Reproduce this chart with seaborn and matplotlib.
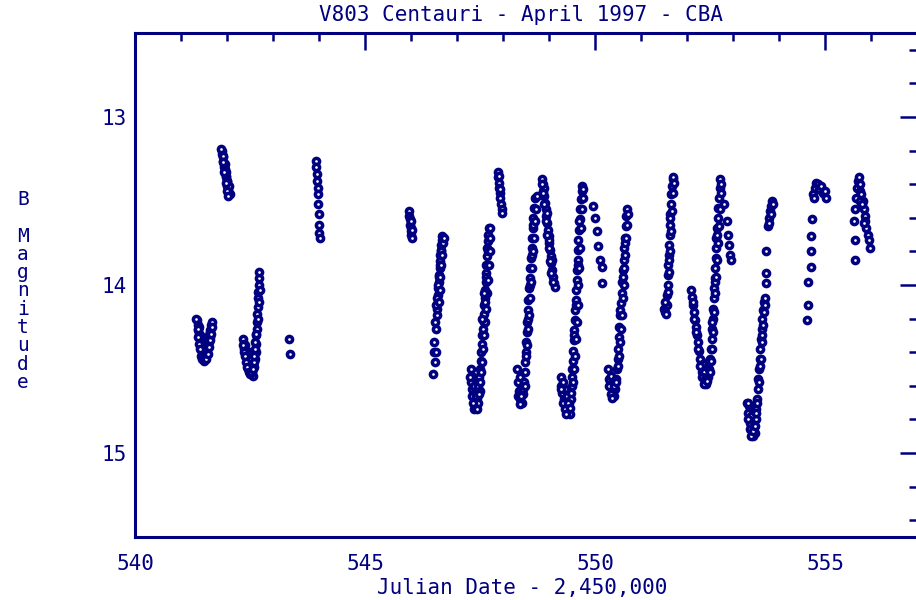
import numpy as np
import pandas as pd
import seaborn as sns
from matplotlib import pyplot as plt
from matplotlib.ticker import MultipleLocator

# photometry runs, (JD - 2,450,000, B magnitude)
run_541a = [(541.35, 14.21), (541.37, 14.24), (541.38, 14.27), (541.40, 14.29), (541.41, 14.32),
            (541.43, 14.34), (541.44, 14.36), (541.46, 14.38), (541.48, 14.40), (541.50, 14.43),
            (541.52, 14.44), (541.54, 14.42), (541.56, 14.40), (541.58, 14.37), (541.59, 14.33),
            (541.61, 14.30), (541.63, 14.27), (541.65, 14.24), (541.67, 14.22), (541.39, 14.25),
            (541.42, 14.30), (541.45, 14.35), (541.47, 14.41), (541.50, 14.39), (541.53, 14.41),
            (541.57, 14.35), (541.60, 14.34), (541.62, 14.31), (541.64, 14.28), (541.32, 14.20),
            (541.36, 14.26), (541.38, 14.31), (541.40, 14.35), (541.42, 14.38), (541.44, 14.42),
            (541.46, 14.44), (541.49, 14.45), (541.55, 14.44), (541.58, 14.41), (541.61, 14.37),
            (541.63, 14.33), (541.66, 14.29), (541.68, 14.25)]
run_541b = [(541.89, 13.20), (541.90, 13.22), (541.91, 13.24), (541.92, 13.26), (541.93, 13.28),
            (541.94, 13.30), (541.95, 13.31), (541.96, 13.33), (541.97, 13.35), (541.98, 13.36),
            (541.99, 13.38), (542.00, 13.40), (542.01, 13.41), (542.02, 13.42), (542.03, 13.44),
            (542.05, 13.45), (542.06, 13.46), (541.92, 13.23), (541.95, 13.28), (541.98, 13.33),
            (542.01, 13.38), (542.04, 13.41), (541.91, 13.27), (541.94, 13.33), (541.97, 13.39),
            (542.00, 13.44), (542.03, 13.47), (541.88, 13.19)]
run_542 = [(542.35, 14.32), (542.37, 14.35), (542.38, 14.38), (542.40, 14.36), (542.41, 14.40),
           (542.43, 14.42), (542.44, 14.39), (542.46, 14.45), (542.48, 14.47), (542.49, 14.43),
           (542.51, 14.50), (542.53, 14.48), (542.55, 14.52), (542.57, 14.54), (542.58, 14.49),
           (542.60, 14.44), (542.62, 14.40), (542.63, 14.35), (542.64, 14.30), (542.65, 14.26),
           (542.66, 14.22), (542.66, 14.17), (542.67, 14.13), (542.67, 14.08), (542.68, 14.04),
           (542.69, 14.00), (542.69, 13.96), (542.70, 13.92), (542.36, 14.40), (542.45, 14.50),
           (542.52, 14.44), (542.60, 14.38), (542.34, 14.36), (542.39, 14.42), (542.42, 14.46),
           (542.44, 14.49), (542.47, 14.52), (542.50, 14.53), (542.53, 14.52), (542.56, 14.50),
           (542.58, 14.46), (542.59, 14.42), (542.61, 14.34), (542.62, 14.29), (542.68, 14.20),
           (542.70, 14.10), (542.71, 14.03)]
run_543a = [(543.35, 14.32), (543.37, 14.41)]
run_543b = [(543.94, 13.26), (543.94, 13.30), (543.95, 13.34), (543.96, 13.38), (543.97, 13.42),
            (543.97, 13.46), (543.98, 13.52), (543.99, 13.58), (544.00, 13.64), (544.01, 13.69),
            (544.02, 13.72)]
run_545 = [(545.95, 13.56), (545.96, 13.59), (545.97, 13.61), (545.98, 13.64), (545.99, 13.66),
           (546.00, 13.68), (546.01, 13.70), (546.02, 13.72), (546.00, 13.62), (546.03, 13.67)]
run_546 = [(546.56, 14.18), (546.57, 14.14), (546.58, 14.10), (546.58, 14.06), (546.59, 14.02),
           (546.60, 13.98), (546.61, 13.94), (546.62, 13.90), (546.63, 13.86), (546.64, 13.82),
           (546.65, 13.79), (546.66, 13.76), (546.67, 13.73), (546.68, 13.71), (546.57, 14.08),
           (546.60, 13.95), (546.63, 13.88), (546.66, 13.80), (546.58, 14.00), (546.55, 14.12),
           (546.53, 14.22), (546.55, 14.26), (546.51, 14.34), (546.49, 14.40), (546.54, 14.40),
           (546.52, 14.46), (546.48, 14.53), (546.60, 14.10), (546.62, 14.03), (546.64, 13.95),
           (546.66, 13.88), (546.68, 13.82), (546.70, 13.75), (546.71, 13.72)]
run_547a = [(547.30, 14.50), (547.31, 14.58), (547.33, 14.62), (547.34, 14.55), (547.36, 14.66),
            (547.37, 14.60), (547.39, 14.70), (547.40, 14.64), (547.42, 14.72), (547.43, 14.67),
            (547.45, 14.60), (547.46, 14.70), (547.48, 14.55), (547.49, 14.63), (547.50, 14.50),
            (547.52, 14.45), (547.53, 14.40), (547.54, 14.35), (547.55, 14.30), (547.56, 14.26),
            (547.57, 14.21), (547.58, 14.17), (547.59, 14.12), (547.60, 14.08), (547.61, 14.03),
            (547.62, 13.98), (547.63, 13.93), (547.64, 13.88), (547.65, 13.83), (547.66, 13.78),
            (547.67, 13.74), (547.68, 13.70), (547.69, 13.66), (547.58, 14.22), (547.61, 14.10),
            (547.64, 13.95), (547.67, 13.80), (547.29, 14.55), (547.32, 14.66), (547.35, 14.70),
            (547.38, 14.74), (547.41, 14.66), (547.44, 14.74), (547.47, 14.65), (547.51, 14.58),
            (547.53, 14.52), (547.55, 14.46), (547.57, 14.38), (547.59, 14.30), (547.61, 14.22),
            (547.63, 14.14), (547.65, 14.05), (547.67, 13.97), (547.69, 13.88), (547.71, 13.80),
            (547.72, 13.72), (547.72, 13.66), (547.55, 14.20), (547.58, 14.05)]
run_547b = [(547.89, 13.33), (547.90, 13.36), (547.91, 13.39), (547.92, 13.42), (547.93, 13.45),
            (547.94, 13.48), (547.96, 13.52), (547.97, 13.55), (547.98, 13.57), (547.91, 13.35),
            (547.94, 13.43)]
run_548 = [(548.30, 14.50), (548.32, 14.58), (548.34, 14.63), (548.36, 14.55), (548.37, 14.68),
           (548.39, 14.62), (548.41, 14.70), (548.43, 14.65), (548.45, 14.58), (548.47, 14.52),
           (548.48, 14.46), (548.49, 14.40), (548.50, 14.34), (548.52, 14.28), (548.53, 14.22),
           (548.54, 14.15), (548.55, 14.09), (548.57, 14.02), (548.58, 13.96), (548.59, 13.90),
           (548.61, 13.84), (548.62, 13.78), (548.63, 13.72), (548.65, 13.66), (548.66, 13.60),
           (548.68, 13.54), (548.70, 13.48), (548.54, 14.20), (548.58, 14.00), (548.62, 13.82),
           (548.66, 13.64), (548.85, 13.37), (548.87, 13.40), (548.88, 13.44), (548.90, 13.47),
           (548.91, 13.51), (548.93, 13.55), (548.94, 13.59), (548.96, 13.63), (548.97, 13.67),
           (548.99, 13.71), (549.00, 13.75), (549.02, 13.79), (549.04, 13.83), (549.05, 13.87),
           (549.07, 13.91), (549.09, 13.95), (549.11, 13.99), (549.12, 14.01), (548.89, 13.42),
           (548.95, 13.57), (549.01, 13.73), (549.06, 13.85), (548.33, 14.66), (548.36, 14.71),
           (548.40, 14.66), (548.44, 14.62), (548.47, 14.60), (548.51, 14.42), (548.53, 14.36),
           (548.55, 14.26), (548.57, 14.18), (548.59, 14.08), (548.61, 13.98), (548.63, 13.90),
           (548.65, 13.80), (548.67, 13.72), (548.69, 13.62), (548.71, 13.55), (548.73, 13.47),
           (548.90, 13.52), (548.93, 13.62), (548.96, 13.70), (548.99, 13.78), (549.02, 13.86),
           (549.05, 13.93), (549.08, 13.98), (548.84, 13.40), (548.86, 13.45)]
run_549 = [(549.25, 14.55), (549.27, 14.60), (549.29, 14.64), (549.31, 14.58), (549.33, 14.68),
           (549.35, 14.62), (549.37, 14.72), (549.39, 14.66), (549.41, 14.75), (549.43, 14.70),
           (549.45, 14.77), (549.47, 14.68), (549.49, 14.60), (549.51, 14.55), (549.50, 14.50),
           (549.52, 14.45), (549.53, 14.39), (549.54, 14.33), (549.55, 14.27), (549.56, 14.21),
           (549.57, 14.15), (549.58, 14.09), (549.59, 14.03), (549.60, 13.97), (549.61, 13.91),
           (549.62, 13.85), (549.63, 13.79), (549.64, 13.73), (549.66, 13.67), (549.67, 13.61),
           (549.68, 13.55), (549.69, 13.49), (549.71, 13.44), (549.72, 13.41), (549.58, 14.12),
           (549.62, 13.88), (549.66, 13.62), (549.55, 14.30), (549.26, 14.62), (549.30, 14.70),
           (549.34, 14.74), (549.38, 14.77), (549.42, 14.70), (549.46, 14.73), (549.48, 14.64),
           (549.52, 14.58), (549.54, 14.50), (549.56, 14.42), (549.58, 14.32), (549.60, 14.22),
           (549.62, 14.12), (549.64, 14.00), (549.66, 13.90), (549.68, 13.78), (549.70, 13.66),
           (549.72, 13.55), (549.74, 13.48), (549.73, 13.43),
           (549.96, 13.53), (550.00, 13.60), (550.04, 13.68), (550.07, 13.77), (550.11, 13.85),
           (550.15, 13.89), (550.15, 13.99)]
run_550 = [(550.29, 14.50), (550.31, 14.56), (550.33, 14.60), (550.35, 14.54), (550.37, 14.64),
           (550.39, 14.58), (550.41, 14.66), (550.43, 14.62), (550.45, 14.56), (550.47, 14.50),
           (550.49, 14.44), (550.50, 14.38), (550.52, 14.31), (550.53, 14.25), (550.55, 14.18),
           (550.56, 14.11), (550.58, 14.05), (550.59, 13.98), (550.61, 13.91), (550.62, 13.85),
           (550.64, 13.78), (550.65, 13.72), (550.67, 13.65), (550.68, 13.59), (550.70, 13.55),
           (550.55, 14.15), (550.60, 13.95), (550.65, 13.75), (550.30, 14.60), (550.34, 14.65),
           (550.38, 14.67), (550.42, 14.60), (550.46, 14.58), (550.50, 14.48), (550.52, 14.42),
           (550.54, 14.34), (550.56, 14.26), (550.58, 14.18), (550.60, 14.08), (550.62, 14.00),
           (550.64, 13.90), (550.66, 13.82), (550.68, 13.72), (550.70, 13.64), (550.72, 13.58)]
run_551 = [(551.50, 14.14), (551.53, 14.16), (551.56, 14.12), (551.57, 14.06), (551.58, 14.00),
           (551.58, 13.94), (551.59, 13.88), (551.60, 13.82), (551.61, 13.76), (551.62, 13.70),
           (551.63, 13.64), (551.64, 13.58), (551.65, 13.52), (551.66, 13.46), (551.67, 13.41),
           (551.69, 13.37), (551.70, 13.36), (551.60, 13.85), (551.64, 13.60), (551.52, 14.10),
           (551.55, 14.17), (551.59, 14.04), (551.61, 13.92), (551.63, 13.80), (551.65, 13.68),
           (551.67, 13.56), (551.69, 13.45), (551.71, 13.39)]
run_552 = [(552.09, 14.03), (552.11, 14.07), (552.13, 14.12), (552.15, 14.16), (552.17, 14.21),
           (552.19, 14.25), (552.21, 14.30), (552.23, 14.34), (552.26, 14.39), (552.28, 14.44),
           (552.30, 14.48), (552.33, 14.52), (552.36, 14.55), (552.39, 14.58), (552.42, 14.59),
           (552.38, 14.52), (552.35, 14.47), (552.46, 14.55), (552.48, 14.50), (552.50, 14.44),
           (552.52, 14.38), (552.54, 14.32), (552.55, 14.26), (552.56, 14.20), (552.57, 14.14),
           (552.58, 14.08), (552.59, 14.02), (552.60, 13.96), (552.61, 13.90), (552.62, 13.84),
           (552.63, 13.78), (552.64, 13.72), (552.66, 13.66), (552.67, 13.60), (552.68, 13.54),
           (552.70, 13.48), (552.71, 13.42), (552.72, 13.37), (552.55, 14.22), (552.60, 13.98),
           (552.65, 13.70), (552.12, 14.10), (552.16, 14.20), (552.20, 14.28), (552.24, 14.38),
           (552.28, 14.48), (552.32, 14.55), (552.36, 14.59), (552.40, 14.56), (552.44, 14.57),
           (552.47, 14.45), (552.50, 14.52), (552.53, 14.45), (552.55, 14.38), (552.57, 14.28),
           (552.59, 14.16), (552.61, 14.05), (552.63, 13.95), (552.65, 13.85), (552.67, 13.75),
           (552.69, 13.65), (552.71, 13.55), (552.73, 13.45), (552.74, 13.40),
           (552.81, 13.52), (552.87, 13.62), (552.89, 13.70), (552.91, 13.76), (552.93, 13.82),
           (552.95, 13.85)]
run_553 = [(553.31, 14.70), (553.33, 14.76), (553.35, 14.72), (553.37, 14.82), (553.39, 14.78),
           (553.41, 14.86), (553.43, 14.90), (553.45, 14.84), (553.47, 14.88), (553.49, 14.80),
           (553.51, 14.74), (553.53, 14.68), (553.54, 14.62), (553.55, 14.56), (553.56, 14.50),
           (553.58, 14.44), (553.59, 14.38), (553.60, 14.32), (553.62, 14.26), (553.63, 14.20),
           (553.65, 14.15), (553.67, 14.10), (553.69, 14.08), (553.58, 14.48), (553.62, 14.30),
           (553.32, 14.80), (553.36, 14.86), (553.40, 14.90), (553.44, 14.87), (553.48, 14.84),
           (553.50, 14.76), (553.52, 14.70), (553.57, 14.58), (553.60, 14.44), (553.63, 14.34),
           (553.65, 14.24), (553.67, 14.16), (553.70, 14.12), (553.33, 14.70),
           (553.72, 13.99), (553.72, 13.93), (553.72, 13.80), (553.76, 13.65), (553.78, 13.60),
           (553.80, 13.56), (553.82, 13.53), (553.84, 13.50), (553.86, 13.52), (553.79, 13.63),
           (553.83, 13.58)]
run_554 = [(554.60, 14.21), (554.63, 14.12), (554.63, 13.98), (554.70, 13.89), (554.70, 13.80),
           (554.70, 13.71), (554.72, 13.61), (554.74, 13.46), (554.78, 13.42), (554.80, 13.39),
           (554.84, 13.40), (554.88, 13.43), (554.92, 13.41), (554.96, 13.45), (555.00, 13.44),
           (555.03, 13.48), (554.76, 13.48)]
run_555 = [(555.65, 13.85), (555.65, 13.73), (555.64, 13.62), (555.66, 13.55), (555.68, 13.48),
           (555.70, 13.42), (555.71, 13.38), (555.73, 13.36), (555.75, 13.40), (555.77, 13.44),
           (555.79, 13.46), (555.82, 13.50), (555.84, 13.55), (555.86, 13.59), (555.88, 13.62),
           (555.90, 13.66), (555.93, 13.70), (555.96, 13.73), (555.98, 13.78), (555.76, 13.50),
           (555.80, 13.52), (555.85, 13.63)]

runs = [run_541a, run_541b, run_542, run_543a, run_543b, run_545, run_546, run_547a,
        run_547b, run_548, run_549, run_550, run_551, run_552, run_553, run_554, run_555]

x_ticks = [540, 545, 550, 555]
y_ticks = [13, 14, 15]

ink = "#000080"

df = pd.DataFrame([p for r in runs for p in r], columns=["jd", "bmag"])

sns.set_style("white")
plt.rcParams['font.family'] = ['DejaVu Sans Mono']

fig = plt.figure(figsize=(9.16, 6.0), dpi=100, facecolor="white")
ax = fig.add_axes([135 / 916, 63 / 600, 782 / 916, 504 / 600])

sns.scatterplot(data=df, x="jd", y="bmag", ax=ax, marker="o", s=20,
                color="white", edgecolor=ink, linewidth=2.5, legend=False)

ax.set_xlim(540, 557)
ax.set_ylim(15.5, 12.5)
ax.set_xticks(x_ticks)
ax.set_yticks(y_ticks)
ax.xaxis.set_minor_locator(MultipleLocator(1))
ax.yaxis.set_minor_locator(MultipleLocator(0.2))

for side in ax.spines.values():
    side.set_visible(True)
    side.set_color(ink)
    side.set_linewidth(2.2)
ax.spines["right"].set_visible(False)

ax.tick_params(which="both", direction="in", color=ink, width=1.8,
               top=True, right=True, labelcolor=ink, labelsize=15)
ax.tick_params(which="major", length=12)
ax.tick_params(which="minor", length=6)
ax.tick_params(axis="x", which="major", pad=12)
ax.tick_params(axis="y", which="major", pad=6)
ax.set_xlabel("")
ax.set_ylabel("")

fig.text(0.569, 0.975, "V803 Centauri - April 1997 - CBA", ha="center", va="center",
         color=ink, fontsize=15)
fig.text(0.570, 0.02, "Julian Date - 2,450,000", ha="center", va="center",
         color=ink, fontsize=15)
fig.text(0.025, 0.515, "\n".join("B Magnitude"), ha="center", va="center",
         color=ink, fontsize=14, linespacing=0.95)

fig.savefig("out.png", dpi=100, facecolor="white")
